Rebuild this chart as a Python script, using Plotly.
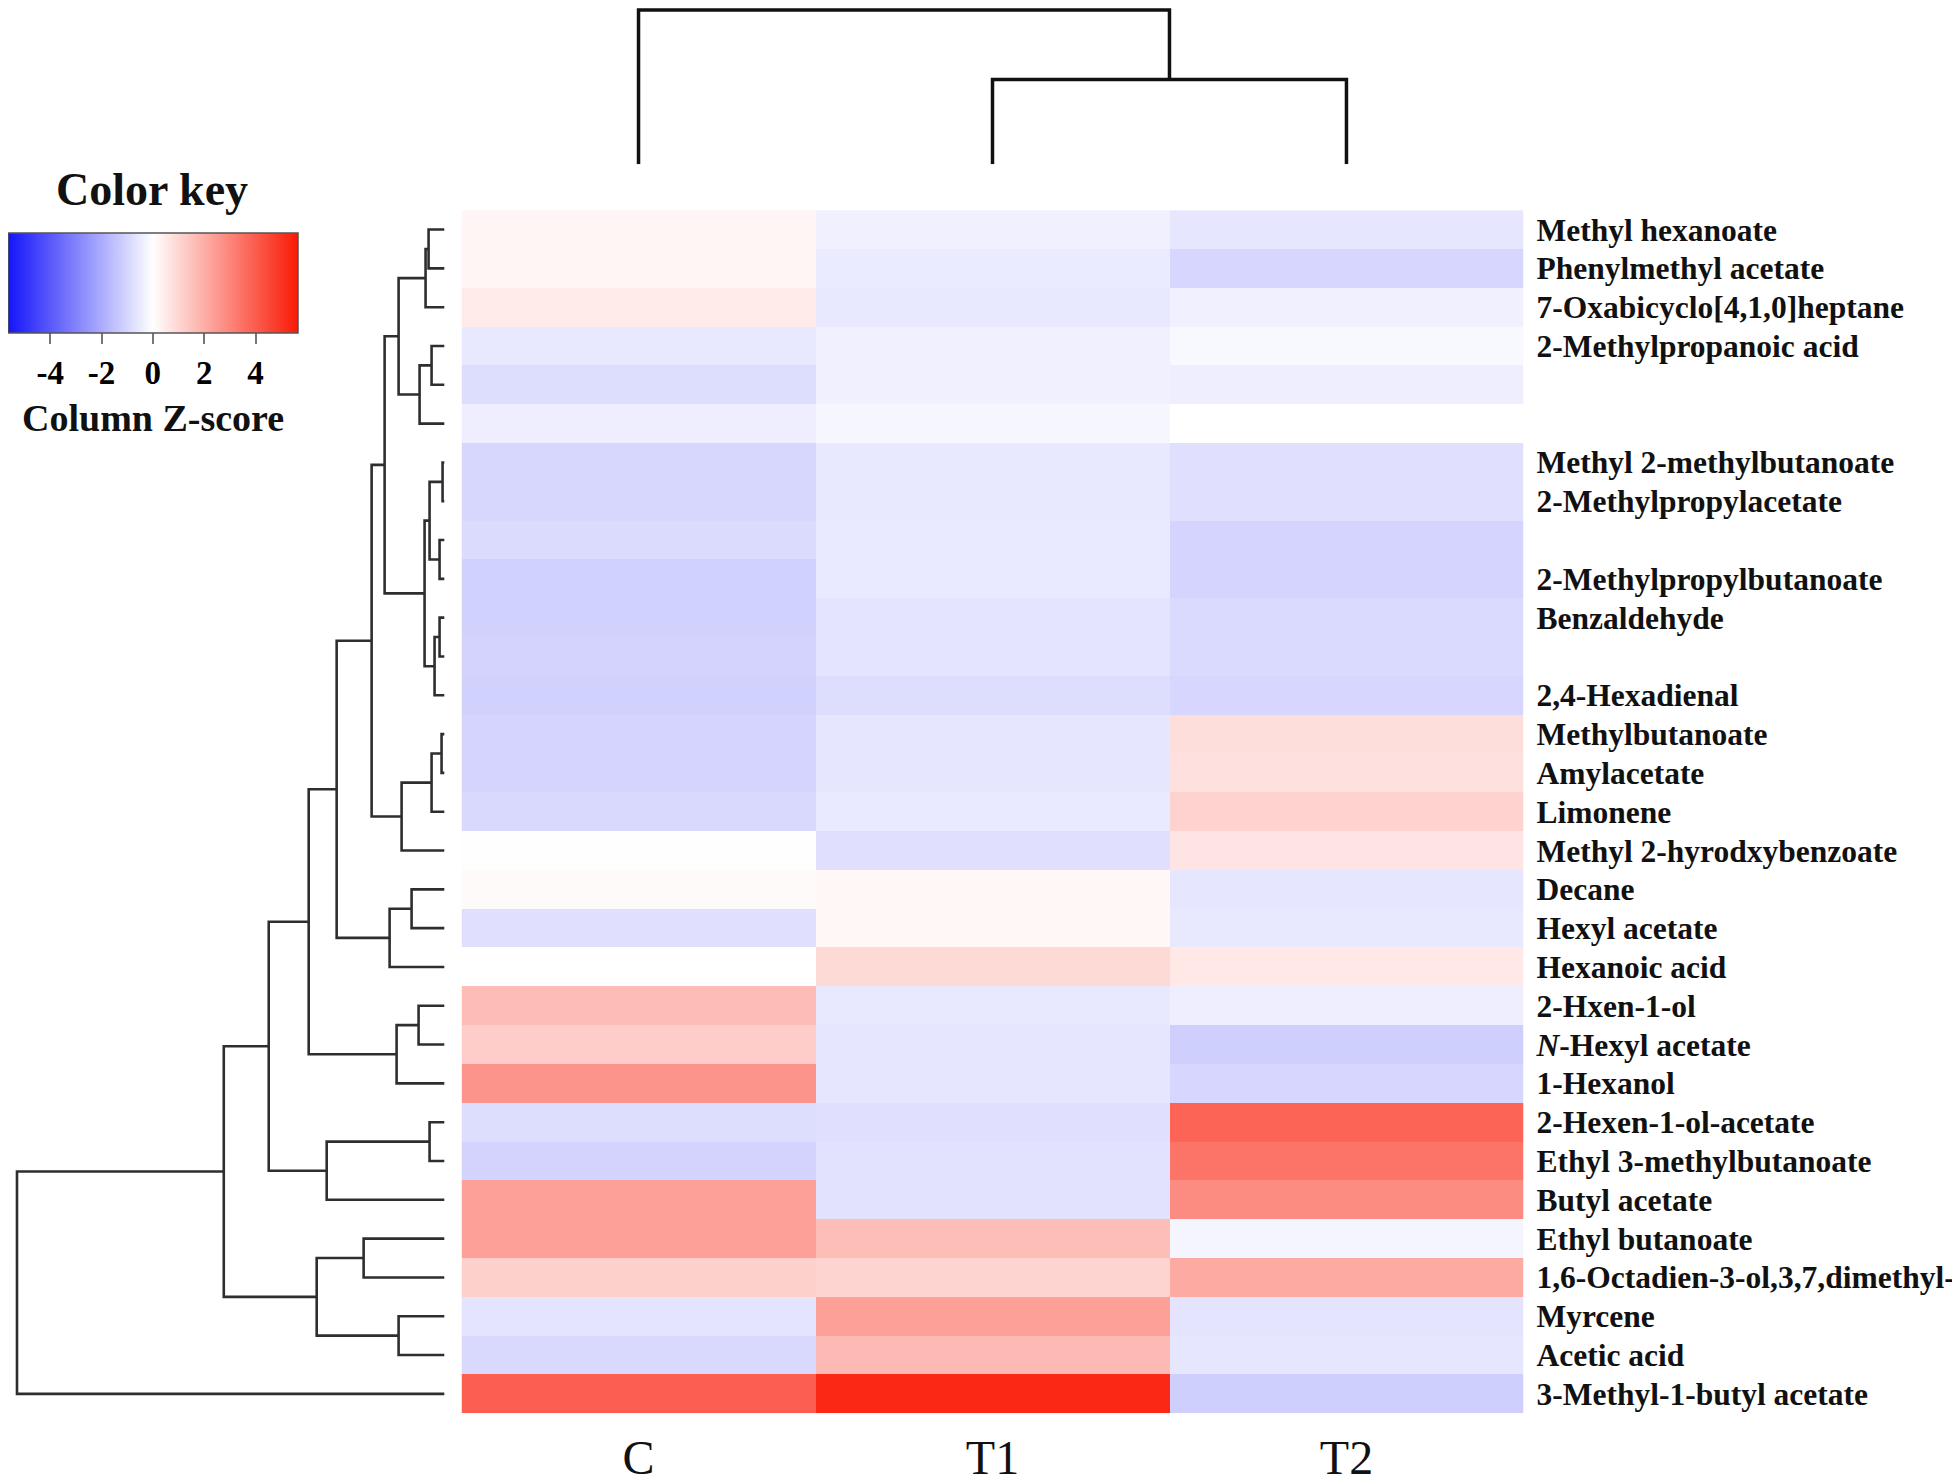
import plotly.graph_objects as go

# ---------------- data ----------------
columns = ["C", "T1", "T2"]

compounds = [
    "Methyl hexanoate", "Phenylmethyl acetate", "7-Oxabicyclo[4,1,0]heptane",
    "2-Methylpropanoic acid", "", "", "Methyl 2-methylbutanoate",
    "2-Methylpropylacetate", "", "2-Methylpropylbutanoate", "Benzaldehyde", "",
    "2,4-Hexadienal", "Methylbutanoate", "Amylacetate", "Limonene",
    "Methyl 2-hyrodxybenzoate", "Decane", "Hexyl acetate", "Hexanoic acid",
    "2-Hxen-1-ol", "<i>N</i>-Hexyl acetate", "1-Hexanol", "2-Hexen-1-ol-acetate",
    "Ethyl 3-methylbutanoate", "Butyl acetate", "Ethyl butanoate",
    "1,6-Octadien-3-ol,3,7,dimethyl-", "Myrcene", "Acetic acid",
    "3-Methyl-1-butyl acetate",
]

z_C = [0.25, 0.25, 0.49, -0.56, -0.81, -0.42, -0.96, -0.96, -0.86, -1.10,
       -1.10, -1.06, -1.10, -1.03, -1.03, -0.91, 0.03, 0.12, -0.74, 0.00,
       1.65, 1.23, 2.63, -0.81, -1.06, 2.33, 2.33, 1.15, -0.66, -0.91, 3.93]
z_T1 = [-0.37, -0.49, -0.56, -0.37, -0.37, -0.22, -0.56, -0.56, -0.54, -0.54,
        -0.66, -0.66, -0.81, -0.61, -0.61, -0.54, -0.74, 0.17, 0.17, 0.91,
        -0.56, -0.61, -0.61, -0.74, -0.70, -0.70, 1.60, 1.06, 2.33, 1.72, 5.28]
z_T2 = [-0.61, -0.98, -0.37, -0.17, -0.42, 0.00, -0.74, -0.74, -1.03, -1.03,
        -0.88, -0.88, -0.98, 0.81, 0.74, 1.10, 0.66, -0.61, -0.56, 0.56,
        -0.42, -1.15, -0.98, 3.81, 3.44, 2.83, -0.25, 2.09, -0.66, -0.61, -1.15]

key_ticks = [-4, -2, 0, 2, 4]

# row dendrogram merges: (child a, child b, height); leaves 0..30, merged nodes 31..
row_merges = [
    (0, 1, 16), (31, 2, 19), (3, 4, 13), (33, 5, 25), (32, 34, 46),
    (6, 7, 2), (8, 9, 5), (36, 37, 15), (10, 11, 5), (39, 12, 10),
    (38, 40, 20), (35, 41, 60), (13, 14, 3), (43, 15, 13), (44, 16, 43),
    (42, 45, 73), (17, 18, 33), (47, 19, 55), (46, 48, 108), (20, 21, 26),
    (50, 22, 48), (49, 51, 136), (23, 24, 15), (53, 25, 118), (52, 54, 176),
    (26, 27, 81), (28, 29, 46), (56, 57, 128), (55, 58, 221), (59, 30, 428),
]
# column dendrogram merges: leaves 0..2 (C, T1, T2)
col_merges = [(1, 2, 87.5), (0, 3, 159)]


def dendro_segments(merges, n):
    pos = {i: float(i) for i in range(n)}
    hgt = {i: 0.0 for i in range(n)}
    hs, ps = [], []
    for k, (a, b, h) in enumerate(merges):
        node = n + k
        hs += [hgt[a], h, h, hgt[b], None]
        ps += [pos[a], pos[a], pos[b], pos[b], None]
        pos[node] = (pos[a] + pos[b]) / 2
        hgt[node] = h
    return hs, ps


# page offset of the plot div (default body margin)
OFF = 8
W, H = 1960 - OFF, 1484 - OFF


def fx(x):
    return min(1.0, max(0.0, (x - OFF) / W))


def fy(y):
    return min(1.0, max(0.0, 1 - (y - OFF) / H))


SERIF = "Liberation Serif"

n_rows = len(compounds)
zmat = [[z_C[i], z_T1[i], z_T2[i]] for i in range(n_rows)]

fig = go.Figure()

fig.add_trace(go.Heatmap(
    z=zmat, x=list(range(len(columns))), y=list(range(n_rows)),
    zmin=-5.65, zmax=5.65,
    colorscale=[[0, "rgb(20,20,250)"], [0.5, "rgb(255,255,255)"], [1, "rgb(250,25,5)"]],
    xaxis="x", yaxis="y",
    colorbar=dict(
        orientation="h", x=fx(151), xanchor="center", y=fy(234), yanchor="top",
        len=290, lenmode="pixels", thickness=100, thicknessmode="pixels",
        xpad=0, ypad=0, outlinecolor="#555", outlinewidth=1.5,
        tickvals=key_ticks, ticktext=[f"<b>{t}</b>" for t in key_ticks],
        ticks="outside", ticklen=11, tickwidth=2, tickcolor="#777",
        tickfont=dict(family=SERIF, size=33, color="black"),
    ),
))

rh, rp = dendro_segments(row_merges, n_rows)
fig.add_trace(go.Scatter(x=rh, y=rp, mode="lines", xaxis="x2", yaxis="y2",
                         line=dict(color="#2e2e2e", width=2.6), hoverinfo="skip",
                         showlegend=False))

ch, cp = dendro_segments(col_merges, len(columns))
fig.add_trace(go.Scatter(x=cp, y=ch, mode="lines", xaxis="x3", yaxis="y3",
                         line=dict(color="#111", width=3.5), hoverinfo="skip",
                         showlegend=False))

hm_x = [fx(460), fx(1523)]
hm_y = [fy(1419), fy(211)]

fig.update_layout(
    width=W, height=H, margin=dict(l=0, r=0, t=0, b=0),
    paper_bgcolor="white", plot_bgcolor="white", showlegend=False,
    xaxis=dict(domain=hm_x, range=[-0.5, 2.5], tickvals=[0, 1, 2], ticktext=columns,
               showgrid=False, zeroline=False, showline=False, ticks="",
               tickfont=dict(family=SERIF, size=48, color="#111"),
               ticklabelstandoff=12, fixedrange=True),
    yaxis=dict(domain=hm_y, range=[n_rows - 0.5, -0.5], side="right",
               tickvals=list(range(n_rows)),
               ticktext=[f"<b>{c}</b>" if c else "" for c in compounds],
               showgrid=False, zeroline=False, showline=False, ticks="",
               tickfont=dict(family=SERIF, size=31.5, color="#111"),
               ticklabelstandoff=12, fixedrange=True),
    xaxis2=dict(domain=[0, fx(443)], range=[443 - OFF, 0], visible=False, fixedrange=True),
    yaxis2=dict(domain=hm_y, range=[n_rows - 0.5, -0.5], visible=False, fixedrange=True),
    xaxis3=dict(domain=hm_x, range=[-0.5, 2.5], visible=False, fixedrange=True),
    yaxis3=dict(domain=[fy(165), 1.0], range=[0, 161], visible=False,
                fixedrange=True),
    annotations=[
        dict(text="<b>Color key</b>", x=fx(150), y=fy(190), xref="paper",
             yref="paper", showarrow=False, xanchor="center", yanchor="middle",
             font=dict(family=SERIF, size=46, color="#111")),
        dict(text="<b>Column Z-score</b>", x=fx(151), y=fy(420), xref="paper",
             yref="paper", showarrow=False, xanchor="center", yanchor="middle",
             font=dict(family=SERIF, size=38, color="#111")),
    ],
)

fig.write_html("out.html")
